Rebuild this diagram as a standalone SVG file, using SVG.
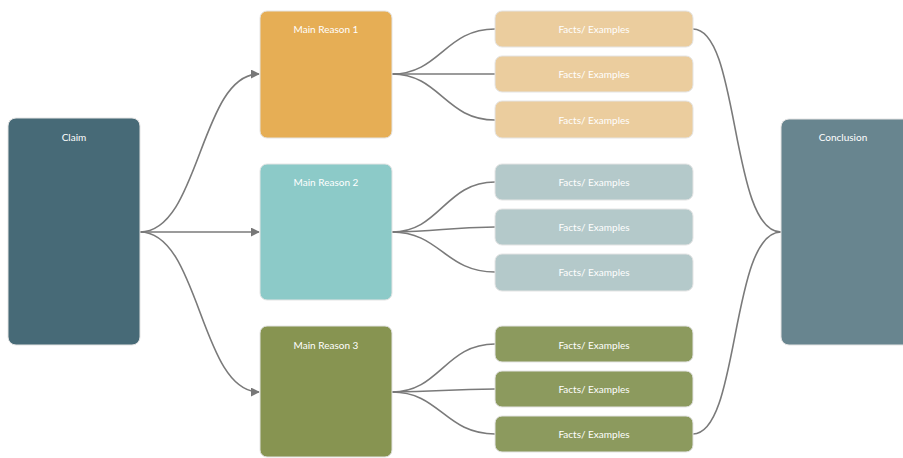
<svg xmlns="http://www.w3.org/2000/svg" width="903" height="458" viewBox="0 0 903 458">
<defs>
<marker id="arr" viewBox="0 0 10 10" refX="9" refY="5" markerWidth="9" markerHeight="9" orient="auto" markerUnits="userSpaceOnUse">
<path d="M0,0 L10,5 L0,10 z" fill="#777"/>
</marker>
</defs>
<style>
.lbl{font-family:Lato,"Liberation Sans",sans-serif;font-size:10px;fill:#fff;text-anchor:middle}
.c{fill:none;stroke:#7a7a7a;stroke-width:1.6}
.box{stroke:#e4e4e4;stroke-width:1}
</style>
<rect width="903" height="458" fill="#fff"/>
<g id="connectors">
<path class="c" d="M140,232 C200,232 200,74 259,74" marker-end="url(#arr)"/>
<path class="c" d="M140,232 L259,232" marker-end="url(#arr)"/>
<path class="c" d="M140,232 C200,232 200,392 259,392" marker-end="url(#arr)"/>
<path class="c" d="M392,74 C440,74 445,29 495,29"/>
<path class="c" d="M392,74 L495,74"/>
<path class="c" d="M392,74 C440,74 445,120 495,120"/>
<path class="c" d="M392,232 C440,232 445,182 495,182"/>
<path class="c" d="M392,232 C440,232 445,227 495,227"/>
<path class="c" d="M392,232 C440,232 445,272 495,272"/>
<path class="c" d="M392,392 C440,392 445,344 495,344"/>
<path class="c" d="M392,392 C440,392 445,389 495,389"/>
<path class="c" d="M392,392 C440,392 445,434 495,434"/>
<path class="c" d="M693,29 C740,29 730,232 781,232"/>
<path class="c" d="M693,434 C740,434 730,232 781,232"/>
</g>
<g id="claim"><rect class="box" x="8" y="118" width="132" height="227" rx="8" fill="#476a77"/><text class="lbl" x="74" y="141">Claim</text></g>
<g id="reason1"><rect class="box" x="260" y="11" width="132" height="127" rx="7" fill="#e6ae55"/><text class="lbl" x="326" y="33">Main Reason 1</text></g>
<g id="reason2"><rect class="box" x="260" y="164" width="132" height="136" rx="7" fill="#8ccac8"/><text class="lbl" x="326" y="186">Main Reason 2</text></g>
<g id="reason3"><rect class="box" x="260" y="326" width="132" height="131" rx="7" fill="#879451"/><text class="lbl" x="326" y="349">Main Reason 3</text></g>
<g id="conclusion"><rect class="box" x="781" y="119" width="130" height="226" rx="8" fill="#68858f"/><text class="lbl" x="843" y="141">Conclusion</text></g>
<g id="f1"><rect class="box" x="495" y="11" width="198" height="36" rx="7" fill="#ebcd9e"/><text class="lbl" x="594" y="33">Facts/ Examples</text></g>
<g id="f2"><rect class="box" x="495" y="56" width="198" height="36" rx="7" fill="#ebcd9e"/><text class="lbl" x="594" y="78">Facts/ Examples</text></g>
<g id="f3"><rect class="box" x="495" y="101" width="198" height="37" rx="7" fill="#ebcd9e"/><text class="lbl" x="594" y="124">Facts/ Examples</text></g>
<g id="f4"><rect class="box" x="495" y="164" width="198" height="36" rx="7" fill="#b4c9ca"/><text class="lbl" x="594" y="186">Facts/ Examples</text></g>
<g id="f5"><rect class="box" x="495" y="209" width="198" height="36" rx="7" fill="#b4c9ca"/><text class="lbl" x="594" y="231">Facts/ Examples</text></g>
<g id="f6"><rect class="box" x="495" y="254" width="198" height="37" rx="7" fill="#b4c9ca"/><text class="lbl" x="594" y="276">Facts/ Examples</text></g>
<g id="f7"><rect class="box" x="495" y="326" width="198" height="36" rx="7" fill="#8c9a5e"/><text class="lbl" x="594" y="349">Facts/ Examples</text></g>
<g id="f8"><rect class="box" x="495" y="371" width="198" height="36" rx="7" fill="#8c9a5e"/><text class="lbl" x="594" y="393">Facts/ Examples</text></g>
<g id="f9"><rect class="box" x="495" y="416" width="198" height="36" rx="7" fill="#8c9a5e"/><text class="lbl" x="594" y="438">Facts/ Examples</text></g>
</svg>
